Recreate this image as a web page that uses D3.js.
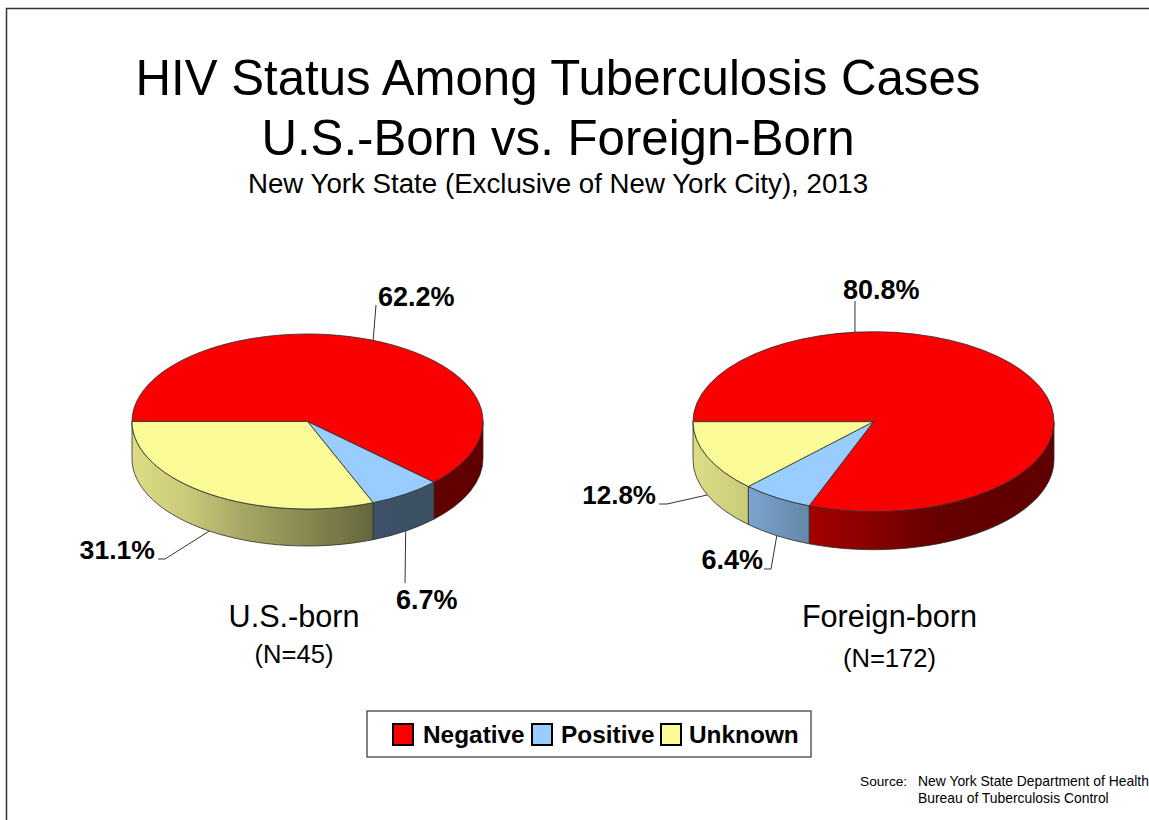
<!DOCTYPE html>
<html lang="en">
<head>
<meta charset="UTF-8">
<title>HIV Status Among Tuberculosis Cases</title>
<script src="https://d3js.org/d3.v7.min.js"></script>
<style>
  html, body { margin: 0; padding: 0; background: #fff; overflow: hidden; }
  text { font-family: "Liberation Sans", Arial, sans-serif; fill: #000; }
</style>
</head>
<body>
<div class="chart"></div>
<script>
// data
const categories = ['Negative', 'Positive', 'Unknown']
const colors = ['#fb0000', '#99ccff', '#fbfb97']
const usBorn = [62.2, 6.7, 31.1]
const foreignBorn = [80.8, 6.4, 12.8]
const titleLines = ['HIV Status Among Tuberculosis Cases', 'U.S.-Born vs. Foreign-Born']
const subtitle = 'New York State (Exclusive of New York City), 2013'
const sourceLines = ['New York State Department of Health', 'Bureau of Tuberculosis Control']

const width = 1149, height = 820
const R = 100 // arcs are drawn at this radius, then squashed by the group transform
const color = d3.scaleOrdinal(categories, colors)

// how dark the side wall gets from left to right of the pie
const wallShade = [[0, .88], [.16, .8], [.32, .66], [.7, .4], [1, .38]]

// pie position and labels. elbow = where the leader bends, label = text anchor point
const pies = [
  { id: 'us', values: usBorn, name: 'U.S.-born', n: '(N=45)', cx: 307.5, cy: 421.5, rx: 175.5, ry: 87.5, depth: 37,
    nameX: 294, nameY: 627, nY: 663,
    labels: [
      { elbow: [376, 305], x: 378, y: 306, anchor: 'start', size: 27 },
      { elbow: [405, 583], x: 396, y: 609, anchor: 'start', size: 27 },
      { elbow: [165, 559], end: [158, 559], x: 155, y: 559, anchor: 'end', size: 26.6 }
    ] },
  { id: 'fb', values: foreignBorn, name: 'Foreign-born', n: '(N=172)', cx: 873.5, cy: 421.7, rx: 180.5, ry: 90, depth: 38,
    nameX: 889.5, nameY: 627, nY: 667,
    labels: [
      { angle: -0.103, elbow: [855, 301], x: 843, y: 299, anchor: 'start', size: 27 },
      { elbow: [771, 569], end: [764, 569], x: 763, y: 569, anchor: 'end', size: 27 },
      { elbow: [667, 504], end: [659, 504], x: 656, y: 504, anchor: 'end', size: 26 }
    ] }
]

const svg = d3.select('.chart').append('svg')
  .attr('width', width)
  .attr('height', height)
const defs = svg.append('defs')

// page frame, only top and left show in the picture
svg.append('path')
  .attr('d', 'M6.5 820V8.5H1149')
  .attr('fill', 'none')
  .attr('stroke', '#333')
  .attr('stroke-width', 1.5)

// titles
svg.selectAll('.title')
  .data(titleLines)
  .enter()
  .append('text')
  .attr('class', 'title')
  .attr('x', 558)
  .attr('y', (d, i) => 95 + i * 60)
  .attr('text-anchor', 'middle')
  .style('font-size', '49.2px')
  .text(d => d)

svg.append('text')
  .attr('x', 558)
  .attr('y', 193)
  .attr('text-anchor', 'middle')
  .style('font-size', '27.7px')
  .text(subtitle)

const pieLayout = d3.pie()
  .sort(null)
  .startAngle(-Math.PI / 2)
  .endAngle(Math.PI * 1.5)

const arc = d3.arc().innerRadius(0).outerRadius(R)

pies.forEach(p => {
  const slices = pieLayout(p.values)
  const depth = p.depth / p.ry * R

  // one horizontal gradient for each colour
  categories.forEach((c, i) => {
    const base = d3.rgb(color(c))
    defs.append('linearGradient')
      .attr('id', `${p.id}-wall-${i}`)
      .attr('gradientUnits', 'userSpaceOnUse')
      .attr('x1', -R)
      .attr('x2', R)
      .selectAll('stop')
      .data(wallShade)
      .enter()
      .append('stop')
      .attr('offset', d => d[0])
      .attr('stop-color', d => d3.rgb(base.r * d[1], base.g * d[1], base.b * d[1]).formatHex())
  })

  const g = svg.append('g')
    .attr('transform', `translate(${p.cx},${p.cy}) scale(${p.rx / R},${p.ry / R})`)

  // side walls, only the front half of the rim is visible
  const walls = slices.map((s, i) => {
    const a0 = Math.max(s.startAngle, Math.PI / 2)
    const a1 = Math.min(s.endAngle, Math.PI * 1.5)
    return { i, a0, a1 }
  }).filter(d => d.a1 > d.a0)

  g.selectAll('.wall')
    .data(walls)
    .enter()
    .append('path')
    .attr('class', 'wall')
    .attr('d', d => {
      const path = d3.path()
      path.arc(0, 0, R, d.a0 - Math.PI / 2, d.a1 - Math.PI / 2)
      path.arc(0, depth, R, d.a1 - Math.PI / 2, d.a0 - Math.PI / 2, true)
      path.closePath()
      return path.toString()
    })
    .attr('fill', d => `url(#${p.id}-wall-${d.i})`)
    .attr('stroke', '#2b2b2b')
    .attr('stroke-width', .8)
    .attr('vector-effect', 'non-scaling-stroke')

  // top face
  g.selectAll('.slice')
    .data(slices)
    .enter()
    .append('path')
    .attr('class', 'slice')
    .attr('d', arc)
    .attr('fill', (d, i) => color(categories[i]))
    .attr('stroke', '#2b2b2b')
    .attr('stroke-width', .8)
    .attr('vector-effect', 'non-scaling-stroke')

  // leader lines start on the rim at the middle of the slice
  const line = d3.line()
  p.labels.forEach((l, i) => {
    const s = slices[i]
    const a = l.angle !== undefined ? l.angle : (s.startAngle + s.endAngle) / 2
    const front = Math.cos(a) < 0
    const start = [
      p.cx + p.rx * Math.sin(a),
      p.cy - p.ry * Math.cos(a) + (front ? p.depth : 0)
    ]
    const points = l.end ? [start, l.elbow, l.end] : [start, l.elbow]
    svg.append('path')
      .attr('d', line(points))
      .attr('fill', 'none')
      .attr('stroke', '#333')
      .attr('stroke-width', 1)

    svg.append('text')
      .attr('x', l.x)
      .attr('y', l.y)
      .attr('text-anchor', l.anchor)
      .style('font-size', l.size + 'px')
      .style('font-weight', 'bold')
      .text(s.data.toFixed(1) + '%')
  })

  svg.append('text')
    .attr('x', p.nameX)
    .attr('y', p.nameY)
    .attr('text-anchor', 'middle')
    .style('font-size', '30.6px')
    .text(p.name)

  svg.append('text')
    .attr('x', p.nameX)
    .attr('y', p.nY)
    .attr('text-anchor', 'middle')
    .style('font-size', '25.6px')
    .text(p.n)
})

// legend
svg.append('rect')
  .attr('x', 367)
  .attr('y', 711)
  .attr('width', 444)
  .attr('height', 46)
  .attr('fill', '#fff')
  .attr('stroke', '#333')
  .attr('stroke-width', 1.2)

const legendX = d3.scaleOrdinal(categories, [393, 532, 661])
const legend = svg.selectAll('.legend')
  .data(categories)
  .enter()
  .append('g')
  .attr('class', 'legend')
  .attr('transform', d => `translate(${legendX(d)},724)`)

legend.append('rect')
  .attr('width', 20)
  .attr('height', 21)
  .attr('fill', d => color(d))
  .attr('stroke', '#000')
  .attr('stroke-width', 2)

legend.append('text')
  .attr('x', (d, i) => [30, 29, 28][i])
  .attr('y', 19)
  .style('font-size', '24.4px')
  .style('font-weight', 'bold')
  .text(d => d)

// source note
svg.append('text')
  .attr('x', 860)
  .attr('y', 786)
  .style('font-size', '13.7px')
  .text('Source:')

svg.selectAll('.source')
  .data(sourceLines)
  .enter()
  .append('text')
  .attr('class', 'source')
  .attr('x', 918)
  .attr('y', (d, i) => 786 + i * 17)
  .style('font-size', '13.9px')
  .text(d => d)
</script>
</body>
</html>
